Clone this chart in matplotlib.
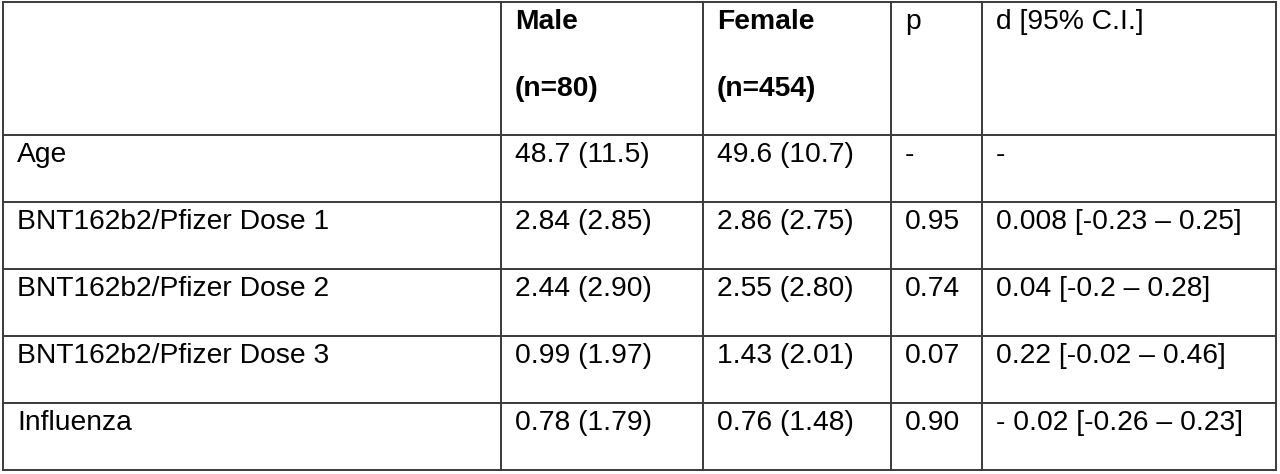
import matplotlib
matplotlib.use("Agg")
from matplotlib import pyplot as plt

plt.rcParams['font.family'] = ['Liberation Sans', 'DejaVu Sans']

# table content
header = ["", "Male\n(n=80)", "Female\n(n=454)", "p", "d [95% C.I.]"]
header_bold = [False, True, True, False, False]
row_labels = ["Age", "BNT162b2/Pfizer Dose 1", "BNT162b2/Pfizer Dose 2",
              "BNT162b2/Pfizer Dose 3", "Influenza"]
male = ["48.7 (11.5)", "2.84 (2.85)", "2.44 (2.90)", "0.99 (1.97)", "0.78 (1.79)"]
female = ["49.6 (10.7)", "2.86 (2.75)", "2.55 (2.80)", "1.43 (2.01)", "0.76 (1.48)"]
p_vals = ["-", "0.95", "0.74", "0.07", "0.90"]
d_ci = ["-", "0.008 [-0.23 \u2013 0.25]", "0.04 [-0.2 \u2013 0.28]",
        "0.22 [-0.02 \u2013 0.46]", "- 0.02 [-0.26 \u2013 0.23]"]

# layout (pixels)
col_x = [3, 501, 703, 891, 982, 1276]
row_y = [2, 135, 202, 269, 336, 403, 470]
pad_x = 14
base_off = 27
line_gap = 67
fs = 20.3
lc = '#3a3a3a'

fig = plt.figure(figsize=(12.8, 4.74), dpi=100)
ax = fig.add_axes([0, 0, 1, 1])
ax.set_xlim(0, 1280)
ax.set_ylim(474, 0)
ax.axis('off')

for x in col_x:
    ax.plot([x, x], [row_y[0], row_y[-1]], color=lc, lw=1.4, solid_capstyle='projecting')
for y in row_y:
    ax.plot([col_x[0], col_x[-1]], [y, y], color=lc, lw=1.4, solid_capstyle='projecting')

# header
for j, h in enumerate(header):
    for k, part in enumerate(h.split("\n")):
        ax.text(col_x[j] + pad_x, row_y[0] + base_off + k * line_gap, part,
                fontsize=fs, va='baseline', ha='left',
                fontweight='bold' if header_bold[j] else 'normal')

# body
cols = [row_labels, male, female, p_vals, d_ci]
for i in range(len(row_labels)):
    for j, col in enumerate(cols):
        ax.text(col_x[j] + pad_x, row_y[i + 1] + base_off, col[i],
                fontsize=fs, va='baseline', ha='left')

plt.savefig("out.png", dpi=100)
